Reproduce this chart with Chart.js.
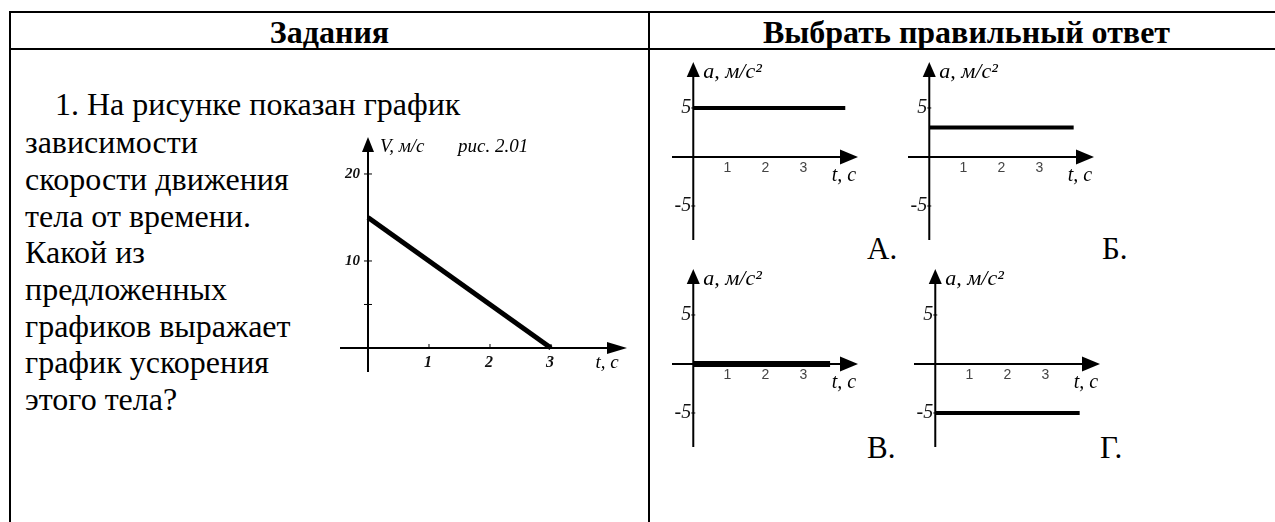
<!DOCTYPE html>
<html><head><meta charset="utf-8">
<script src="https://cdn.jsdelivr.net/npm/chart.js@4.4.1/dist/chart.umd.min.js"></script>
<style>
html,body{margin:0;padding:0;background:#fff;}
body{width:1275px;height:522px;position:relative;overflow:hidden;font-family:"Liberation Serif","Times New Roman",serif;color:#000;}
.ln{position:absolute;background:#000;}
.t{position:absolute;white-space:nowrap;font-size:32px;line-height:36px;}
.h{position:absolute;white-space:nowrap;font-size:32px;font-weight:bold;line-height:36px;text-align:center;}
.a{position:absolute;white-space:nowrap;font-size:31px;line-height:36px;}
canvas{position:absolute;}
</style></head><body>
<div class="ln" style="left:10px;top:11px;width:1275px;height:2px"></div>
<div class="ln" style="left:10px;top:48px;width:1275px;height:2px"></div>
<div class="ln" style="left:9px;top:11px;width:2px;height:520px"></div>
<div class="ln" style="left:648px;top:11px;width:2px;height:520px"></div>
<div class="h" style="left:10px;width:639px;top:14px">Задания</div>
<div class="h" style="left:650px;width:633px;top:14px">Выбрать правильный ответ</div>
<div id="task"></div>
<div id="answers"></div>
<canvas id="vel" width="337" height="255" style="left:310px;top:127px"></canvas>
<canvas id="acc0" width="216" height="198" style="left:660px;top:54px"></canvas>
<canvas id="acc1" width="216" height="198" style="left:896px;top:54px"></canvas>
<canvas id="acc2" width="216" height="198" style="left:660px;top:261px"></canvas>
<canvas id="acc3" width="216" height="198" style="left:902px;top:261px"></canvas>
<script>
// ---- data ----
const taskLines = ['1. На рисунке показан график','зависимости','скорости движения','тела от времени.','Какой из','предложенных','графиков выражает','график ускорения','этого тела?'];
const velTime = [0, 3];
const velSpeed = [15, 0];
const velYTicks = [5, 10, 20];
const velYTickLabels = ['', '10', '20'];
const velXTicks = [1, 2, 3];
const velXTickLabels = ['1', '2', '3'];
const answerLetters = ['А.', 'Б.', 'В.', 'Г.'];
const accValues = [5, 3, 0, -5];
const accEnd = [4.0, 3.8, 3.6, 3.8];
const accYTicks = [5, -5];
const accYTickLabels = ['5', '-5'];
const accXTicks = [1, 2, 3];
const accXTickLabels = ['1', '2', '3'];

// ---- layout ----
const taskTops = [86,124,161,198,234,271,308,344,381];
const taskLefts = [55,25,25,25,25,25,25,25,25];
const letterPos = [[867,231],[1102,231],[867,430],[1100,430]];

const taskEl = document.getElementById('task');
taskLines.forEach((s,i)=>{const d=document.createElement('div');d.className='t';d.style.left=taskLefts[i]+'px';d.style.top=taskTops[i]+'px';d.textContent=s;taskEl.appendChild(d);});
const ansEl = document.getElementById('answers');
answerLetters.forEach((s,i)=>{const d=document.createElement('div');d.className='a';d.style.left=letterPos[i][0]+'px';d.style.top=letterPos[i][1]+'px';d.textContent=s;ansEl.appendChild(d);});

function drawAxes(chart, c) {
  const {ctx, scales:{x, y}} = chart;
  const ox = x.getPixelForValue(0), oy = y.getPixelForValue(0);
  const xl = x.getPixelForValue(x.min), xr = x.getPixelForValue(x.max);
  const yt = y.getPixelForValue(y.max), yb = y.getPixelForValue(y.min);
  ctx.save();
  ctx.strokeStyle = '#000'; ctx.fillStyle = '#000'; ctx.lineWidth = c.axisWidth;
  ctx.beginPath();
  ctx.moveTo(xl, oy); ctx.lineTo(xr - c.xArrow[0] + 2, oy);
  ctx.moveTo(ox, yb); ctx.lineTo(ox, yt + c.yArrow[0] - 2);
  ctx.stroke();
  ctx.beginPath(); ctx.moveTo(xr, oy); ctx.lineTo(xr - c.xArrow[0], oy - c.xArrow[1]); ctx.lineTo(xr - c.xArrow[0], oy + c.xArrow[1]); ctx.closePath(); ctx.fill();
  ctx.beginPath(); ctx.moveTo(ox, yt); ctx.lineTo(ox - c.yArrow[1], yt + c.yArrow[0]); ctx.lineTo(ox + c.yArrow[1], yt + c.yArrow[0]); ctx.closePath(); ctx.fill();
  // y ticks
  ctx.lineWidth = 1;
  ctx.textBaseline = 'middle'; ctx.textAlign = 'right';
  c.yTicks.forEach((v,i)=>{
    const py = y.getPixelForValue(v);
    ctx.beginPath(); ctx.moveTo(ox - c.yTickLen, py); ctx.lineTo(ox + c.yTickLen, py); ctx.stroke();
    ctx.font = c.yTickFont; ctx.fillStyle = '#111';
    ctx.fillText(c.yTickLabels[i], ox - c.yLabelGap, py);
  });
  // x ticks
  ctx.textAlign = 'center';
  c.xTicks.forEach((v,i)=>{
    const px = x.getPixelForValue(v);
    if (c.xTickLen) { ctx.beginPath(); ctx.moveTo(px, oy - c.xTickLen); ctx.lineTo(px, oy + 1); ctx.stroke(); }
    ctx.font = c.xTickFont; ctx.fillStyle = c.xTickColor;
    ctx.fillText(c.xTickLabels[i], px + c.xLabelDx, oy + c.xLabelDy);
  });
  // titles
  ctx.fillStyle = '#000'; ctx.textAlign = 'left';
  c.yTitle.forEach(tt=>{ ctx.font = tt.font; ctx.fillText(tt.text, ox + tt.dx, yt + tt.dy); });
  ctx.textAlign = 'center'; ctx.font = c.xTitleFont;
  ctx.fillText('t, c', xr + c.xTitlePos[0], oy + c.xTitlePos[1]);
  ctx.restore();
}

function makeChart(id, c) {
  new Chart(document.getElementById(id), {
    type: 'line',
    data: { datasets: [{ data: c.xs.map((v,i)=>({x:v, y:c.ys[i]})), borderColor:'#000', borderWidth:c.lineWidth, pointRadius:0, fill:false, tension:0, borderCapStyle:'butt' }] },
    options: {
      responsive:false, animation:false, devicePixelRatio:1,
      layout:{ padding:c.padding },
      scales:{ x:{ type:'linear', display:false, min:c.xMin, max:c.xMax }, y:{ type:'linear', display:false, min:c.yMin, max:c.yMax } },
      plugins:{ legend:{display:false}, tooltip:{enabled:false} }
    },
    plugins:[{ id:'axes', beforeDatasetsDraw(chart){ drawAxes(chart, c); } }]
  });
}

makeChart('vel', {
  xs: velTime, ys: velSpeed, lineWidth: 5,
  padding:{left:30,right:20,top:10,bottom:10},
  xMin:-0.459, xMax:4.246, yMin:-2.76, yMax:24.25,
  axisWidth:2, xArrow:[20,6], yArrow:[15,6],
  yTicks: velYTicks, yTickLabels: velYTickLabels, yTickLen:4, yLabelGap:8, yTickFont:'italic bold 15px "Liberation Serif"',
  xTicks: velXTicks, xTickLabels: velXTickLabels, xTickLen:4, xLabelDx:-1, xLabelDy:15, xTickFont:'italic bold 16px "Liberation Serif"', xTickColor:'#111',
  yTitle:[{text:'V, м/с', dx:12, dy:10, font:'italic 19px "Liberation Serif"'},{text:'рис. 2.01', dx:90, dy:10, font:'italic 19px "Liberation Serif"'}],
  xTitleFont:'italic 19px "Liberation Serif"', xTitlePos:[-20, 15]
});

accValues.forEach((v, i)=>{
  makeChart('acc'+i, {
    xs:[0, accEnd[i]], ys:[v, v], lineWidth: v === 0 ? 6 : 4,
    padding:{left:12,right:18,top:8,bottom:12},
    xMin:-0.56, xMax:4.335, yMin:-8.47, yMax:9.69,
    axisWidth:2, xArrow:[18,7.5], yArrow:[15,6.5],
    yTicks: accYTicks, yTickLabels: accYTickLabels, yTickLen:2, yLabelGap:2, yTickFont:'italic 20px "Liberation Serif"',
    xTicks: accXTicks, xTickLabels: accXTickLabels, xTickLen:0, xLabelDx:-4, xLabelDy:11, xTickFont:'14px "Liberation Sans"', xTickColor:'#444',
    yTitle:[{text:'a, м/с²', dx:10, dy:10, font:'italic 22px "Liberation Serif"'}],
    xTitleFont:'italic 20px "Liberation Serif"', xTitlePos:[-14, 19]
  });
});
</script>
</body></html>
